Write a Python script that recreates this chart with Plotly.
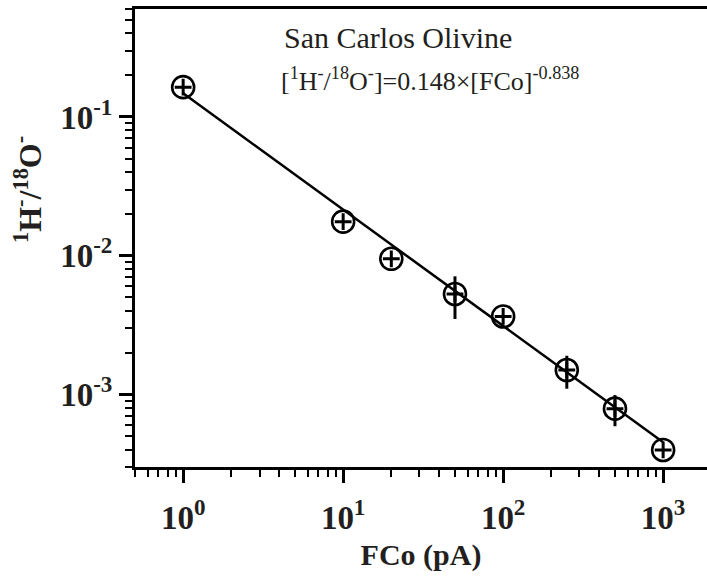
import plotly.graph_objects as go
import math

# ---- data ----
fco_pa = [1, 10, 20, 50, 100, 250, 500, 1000]
ratio_h_o = [0.164, 0.0176, 0.0095, 0.0053, 0.00365, 0.0015, 0.00079, 0.000398]
ratio_err = [0.0, 0.0, 0.0, 0.0018, 0.0, 0.0004, 0.0002, 0.0]

fit_x = [1, 1000]
fit_y = [0.148, 0.000453]

x_tick_vals = [1, 10, 100, 1000]
x_tick_text = ["10<sup>0</sup>", "10<sup>1</sup>", "10<sup>2</sup>", "10<sup>3</sup>"]
y_tick_vals = [0.001, 0.01, 0.1]
y_tick_text = ["10<sup>-3</sup>", "10<sup>-2</sup>", "10<sup>-1</sup>"]

x_minor = [0.5, 0.6, 0.7, 0.8, 0.9, 2, 3, 4, 5, 6, 7, 8, 9, 20, 30, 40, 50, 60, 70, 80, 90,
           200, 300, 400, 500, 600, 700, 800, 900]
y_minor = [0.0003, 0.0004, 0.0005, 0.0006, 0.0007, 0.0008, 0.0009,
           0.002, 0.003, 0.004, 0.005, 0.006, 0.007, 0.008, 0.009,
           0.02, 0.03, 0.04, 0.05, 0.06, 0.07, 0.08, 0.09,
           0.2, 0.3, 0.4, 0.5, 0.6]

title_text = "San Carlos Olivine"
formula_text = "[<sup>1</sup>H<sup>-</sup>/<sup>18</sup>O<sup>-</sup>]=0.148×[FCo]<sup>-0.838</sup>"
x_title = "FCo (pA)"
y_title = "<sup>1</sup>H<sup>-</sup>/<sup>18</sup>O<sup>-</sup>"

INK = "#231f20"
SERIF = "Liberation Serif"

fig = go.Figure()

# fit line
fig.add_trace(go.Scatter(x=fit_x, y=fit_y, mode="lines",
                         line=dict(color="black", width=2.5), hoverinfo="skip"))

# error bars + circles
fig.add_trace(go.Scatter(
    x=fco_pa, y=ratio_h_o, mode="markers",
    marker=dict(symbol="circle-open", size=22, color="black", line=dict(width=2.6, color="black")),
    error_y=dict(type="data", array=ratio_err, visible=True, color="black", thickness=3, width=0),
))
# crosses inside
fig.add_trace(go.Scatter(
    x=fco_pa, y=ratio_h_o, mode="markers",
    marker=dict(symbol="cross-thin-open", size=12, color="black", line=dict(width=3, color="black")),
))

W, H = 707, 577
ml, mr, mt, mb = 135, 0, 9, 110
pw, ph = W - ml - mr, H - mt - mb

def px_x(p):
    return (p - ml) / pw

def px_y(p):
    return (H - mb - p) / ph

fig.update_layout(
    width=W, height=H,
    margin=dict(l=ml, r=mr, t=mt, b=mb),
    paper_bgcolor="white", plot_bgcolor="white",
    showlegend=False,
    xaxis=dict(
        type="log", range=[math.log10(0.5), math.log10(1880)],
        showgrid=False, zeroline=False,
        showline=True, linecolor="black", linewidth=3, mirror=True,
        ticks="outside", ticklen=13, tickwidth=2.5, tickcolor="black",
        tickvals=x_tick_vals, ticktext=x_tick_text,
        tickfont=dict(family=SERIF, size=33, color=INK, weight="bold"),
        ticklabelstandoff=6,
        minor=dict(tickvals=x_minor, ticks="outside", ticklen=7, tickwidth=2, tickcolor="black", showgrid=False),
        title=dict(text=x_title, font=dict(family=SERIF, size=30, color=INK, weight="bold"), standoff=10),
    ),
    yaxis=dict(
        type="log", range=[math.log10(3e-4), math.log10(0.6)],
        showgrid=False, zeroline=False,
        showline=True, linecolor="black", linewidth=3, mirror=False,
        ticks="outside", ticklen=13, tickwidth=2.5, tickcolor="black",
        tickvals=y_tick_vals, ticktext=y_tick_text,
        tickfont=dict(family=SERIF, size=33, color=INK, weight="bold"),
        minor=dict(tickvals=y_minor, ticks="outside", ticklen=7, tickwidth=2, tickcolor="black", showgrid=False),
    ),
)

fig.add_annotation(text=title_text, xref="paper", yref="paper",
                   x=px_x(398), y=px_y(37), showarrow=False,
                   xanchor="center", yanchor="middle",
                   font=dict(family=SERIF, size=30, color=INK))
fig.add_annotation(text=formula_text, xref="paper", yref="paper",
                   x=px_x(430), y=px_y(80), showarrow=False,
                   xanchor="center", yanchor="middle",
                   font=dict(family=SERIF, size=26, color=INK))
fig.add_annotation(text=y_title, textangle=-90, xref="paper", yref="paper",
                   x=px_x(28), y=px_y(190), showarrow=False,
                   xanchor="center", yanchor="middle",
                   font=dict(family=SERIF, size=32, color=INK, weight="bold"))

fig.write_html("out.html")
